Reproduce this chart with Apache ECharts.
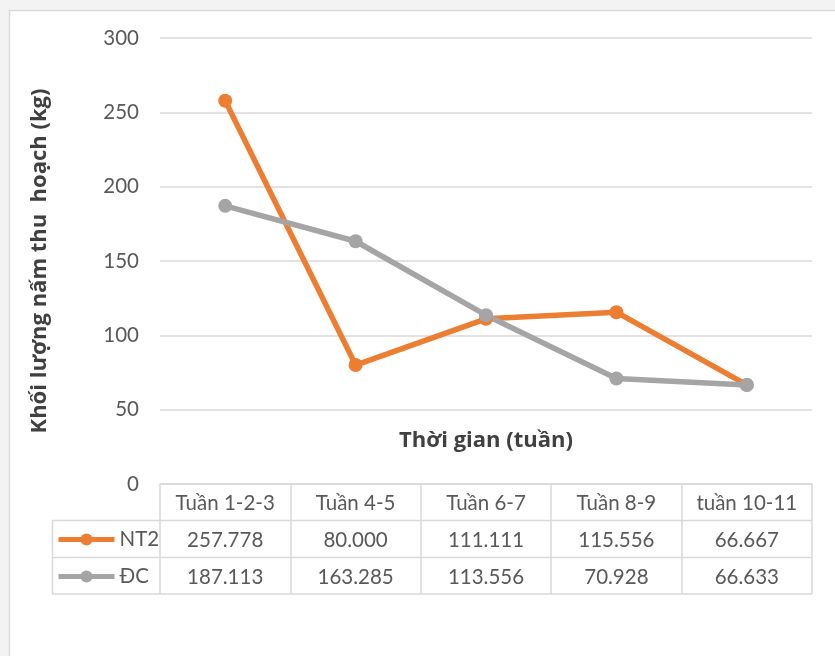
<!DOCTYPE html>
<html><head><meta charset="utf-8">
<script src="https://cdn.jsdelivr.net/npm/echarts@6/dist/echarts.min.js"></script>
<style>html,body{margin:0;padding:0;background:#f3f3f3;}#c{width:835px;height:656px;}</style>
</head><body><div id="c"></div>
<script>
const categories = ['Tuần 1-2-3', 'Tuần 4-5', 'Tuần 6-7', 'Tuần 8-9', 'tuần 10-11'];
const nt2 = [257.778, 80.000, 111.111, 115.556, 66.667];
const dc = [187.113, 163.285, 113.556, 70.928, 66.633];
const seriesNames = ['NT2', 'ĐC'];
const yTicks = { min: 0, max: 300, interval: 50 };
const yTitle = 'Khối lượng nấm thu  hoạch (kg)';
const xTitle = 'Thời gian (tuần)';

const FONT = 'Lato';
const TFONT = 'Open Sans';
const grid = '#d9d9d9';
const txt = '#595959';
const chart = echarts.init(document.getElementById('c'));
const rowAxis = (vals, off) => ({
  type: 'category', data: categories, position: 'bottom', offset: off, gridIndex: 0,
  axisLine: { show: false }, axisTick: { show: false },
  axisLabel: { interval: 0, margin: 9, color: txt, fontFamily: FONT, fontSize: 20.5,
    formatter: (v, i) => vals[i].toFixed(3) }
});
chart.setOption({
  backgroundColor: '#f3f3f3',
  animation: false,
  grid: { left: 160, right: 23, top: 38, bottom: 172 },
  legend: {
    orient: 'vertical', left: 51, top: 524, itemWidth: 56, itemHeight: 15, itemGap: 16,
    lineStyle: { width: 5 },
    textStyle: { color: txt, fontFamily: FONT, fontSize: 20.5 },
    data: seriesNames
  },
  xAxis: [
    { type: 'category', data: categories, boundaryGap: true,
      axisLine: { show: true, lineStyle: { color: grid, width: 1.5 } },
      axisTick: { show: true, interval: 0, length: 110, lineStyle: { color: grid, width: 1.5 } },
      axisLabel: { interval: 0, margin: 9, color: txt, fontFamily: FONT, fontSize: 20.5 } },
    rowAxis(nt2, 36.5),
    rowAxis(dc, 73.5)
  ],
  yAxis: {
    type: 'value', min: yTicks.min, max: yTicks.max, interval: yTicks.interval,
    name: yTitle, nameLocation: 'middle', nameRotate: 90, nameGap: 109,
    nameTextStyle: { color: '#404040', fontFamily: TFONT, fontSize: 22, fontWeight: 'bold' },
    axisLine: { show: false }, axisTick: { show: false },
    axisLabel: { margin: 21, color: txt, fontFamily: FONT, fontSize: 20.5 },
    splitLine: { lineStyle: { color: grid, width: 1.5 } }
  },
  graphic: [
    { type: 'rect', z: -10, shape: { x: 9.5, y: 10.5, width: 900, height: 700 },
      style: { fill: '#ffffff', stroke: grid, lineWidth: 1.5 } },
    { type: 'text', x: 486, y: 441, style: { text: xTitle, textAlign: 'center', textVerticalAlign: 'middle',
      fill: '#404040', font: 'bold 22px "' + TFONT + '"' } },
    { type: 'line', shape: { x1: 52, y1: 520.5, x2: 812, y2: 520.5 }, style: { stroke: grid, lineWidth: 1.5 } },
    { type: 'line', shape: { x1: 52, y1: 557.5, x2: 812, y2: 557.5 }, style: { stroke: grid, lineWidth: 1.5 } },
    { type: 'line', shape: { x1: 52, y1: 594, x2: 812, y2: 594 }, style: { stroke: grid, lineWidth: 1.5 } },
    { type: 'line', shape: { x1: 52.5, y1: 520, x2: 52.5, y2: 594 }, style: { stroke: grid, lineWidth: 1.5 } }
  ],
  series: [
    { name: seriesNames[0], type: 'line', data: nt2, symbol: 'circle', symbolSize: 14,
      itemStyle: { color: '#ED7D31' }, lineStyle: { color: '#ED7D31', width: 5.5 } },
    { name: seriesNames[1], type: 'line', data: dc, symbol: 'circle', symbolSize: 14,
      itemStyle: { color: '#A5A5A5' }, lineStyle: { color: '#A5A5A5', width: 5.5 } }
  ]
});
</script></body></html>
